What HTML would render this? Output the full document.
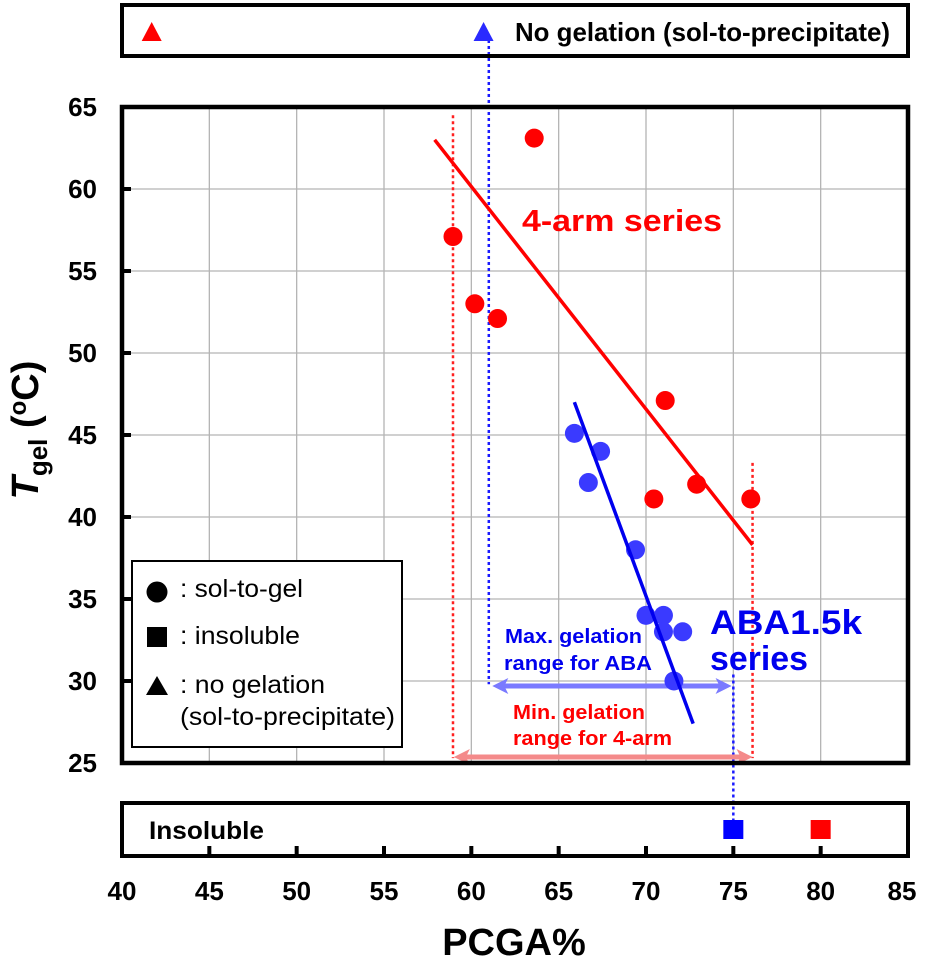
<!DOCTYPE html>
<html><head><meta charset="utf-8"><style>
body{margin:0;background:#fff}
svg{display:block;font-family:"Liberation Sans",Arial,sans-serif}
</style></head><body>
<svg id="chart" width="926" height="960" viewBox="0 0 926 960">
<g id="grid"></g>
<g id="overlay"></g>
<g id="marks"></g>
<g id="axes"></g>
</svg>
<script>
const xTicks=[40,45,50,55,60,65,70,75,80,85];
const yTicks=[25,30,35,40,45,50,55,60,65];
const fourArmX=[63.6,58.95,60.2,61.5,71.1,70.45,72.9,76];
const fourArmY=[63.1,57.1,53,52.1,47.1,41.1,42,41.1];
const abaX=[65.9,67.4,66.7,69.4,70,71,71,72.1,71.6];
const abaY=[45.1,44,42.1,38,34,34,33,33,30];
const fourArmFitX=[57.9,76.1];
const fourArmFitY=[63,38.3];
const abaFitX=[65.9,72.7];
const abaFitY=[47,27.4];
const noGelX=[41.7,60.7];
const insolX=[75,80];

const X0=122,X1=908,Y0=763,Y1=107;
const xs=v=>X0+(v-40)/(85-40)*(X1-X0);
const ys=v=>Y0-(v-25)/(65-25)*(Y0-Y1);
const NS='http://www.w3.org/2000/svg';
function mk(tag,attrs,parent,text){const e=document.createElementNS(NS,tag);for(const k in attrs)e.setAttribute(k,attrs[k]);if(text!==undefined)e.textContent=text;document.getElementById(parent).appendChild(e);return e;}

xTicks.forEach(t=>{if(t>40&&t<85){const l=mk('line',{x1:xs(t),x2:xs(t),y1:Y1,y2:Y0,stroke:'#b4b4b4','stroke-width':1.3},'grid');

}});
yTicks.forEach(t=>{if(t>25&&t<65){const l=mk('line',{x1:X0,x2:X1,y1:ys(t),y2:ys(t),stroke:'#b4b4b4','stroke-width':1.3},'grid');

}});

function dot(x,ya,yb,c,name){const l=mk('line',{x1:x,x2:x,y1:ya,y2:yb,stroke:c,'stroke-width':2.5,'stroke-dasharray':'3 3'},'overlay');

}
dot(xs(58.95),ys(64.5),ys(25.3),'#ff2020','left-4arm-bound');
dot(xs(76.1),ys(43.3),ys(25.3),'#ff2020','right-4arm-bound');
dot(xs(61),40,ys(29.8),'#1a1aff','aba-left-bound');
dot(xs(75),ys(30.4),822,'#1a1aff','aba-right-bound');

function arrow(xa,xb,y,c,name){const g=mk('g',{},'overlay');


const e=document.createElementNS(NS,'line');e.setAttribute('x1',xa+10);e.setAttribute('x2',xb-10);e.setAttribute('y1',y);e.setAttribute('y2',y);e.setAttribute('stroke',c);e.setAttribute('stroke-width',5);g.appendChild(e);
const p1=document.createElementNS(NS,'polygon');p1.setAttribute('points',`${xa},${y} ${xa+16},${y-8} ${xa+12},${y} ${xa+16},${y+8}`);p1.setAttribute('fill',c);g.appendChild(p1);
const p2=document.createElementNS(NS,'polygon');p2.setAttribute('points',`${xb},${y} ${xb-16},${y-8} ${xb-12},${y} ${xb-16},${y+8}`);p2.setAttribute('fill',c);g.appendChild(p2);}
arrow(xs(61.2),xs(74.9),686,'#7a7aff','aba-range-arrow');
arrow(xs(59),xs(76.1),757,'#f48a8a','4arm-range-arrow');

let l=mk('line',{x1:xs(fourArmFitX[0]),y1:ys(fourArmFitY[0]),x2:xs(fourArmFitX[1]),y2:ys(fourArmFitY[1]),stroke:'#ff0000','stroke-width':3.5},'marks');


fourArmX.forEach((x,i)=>{const c=mk('circle',{cx:xs(x),cy:ys(fourArmY[i]),r:9.5,fill:'#ff0000'},'marks');

});
abaX.forEach((x,i)=>{const c=mk('circle',{cx:xs(x),cy:ys(abaY[i]),r:9.5,fill:'#3a3aff'},'marks');

});
l=mk('line',{x1:xs(abaFitX[0]),y1:ys(abaFitY[0]),x2:xs(abaFitX[1]),y2:ys(abaFitY[1]),stroke:'#0000ee','stroke-width':3.5},'marks');



let r=mk('rect',{x:X0,y:5,width:X1-X0,height:51,fill:'none',stroke:'#000','stroke-width':4},'axes');


['#ff0000','#2a2aff'].forEach((c,i)=>{const x=xs(noGelX[i]);const p=mk('polygon',{points:`${x},22 ${x-10},41 ${x+10},41`,fill:c},'marks');

});
let t=mk('text',{x:515,y:41,'font-size':26,'font-weight':'bold',fill:'#000',textLength:375,lengthAdjust:'spacingAndGlyphs'},'axes','No gelation (sol-to-precipitate)');


r=mk('rect',{x:X0,y:803,width:X1-X0,height:53,fill:'none',stroke:'#000','stroke-width':4},'axes');


['#0000ff','#ff0000'].forEach((c,i)=>{const x=xs(insolX[i]);const s=mk('rect',{x:x-10,y:820,width:20,height:19,fill:c},'marks');

});
t=mk('text',{x:149,y:839,'font-size':25,'font-weight':'bold',textLength:115,lengthAdjust:'spacingAndGlyphs'},'axes','Insoluble');



r=mk('rect',{x:X0,y:Y1,width:X1-X0,height:Y0-Y1,fill:'none',stroke:'#000','stroke-width':4.5},'axes');


yTicks.forEach(v=>{const tk=mk('line',{x1:X0,x2:X0+9,y1:ys(v),y2:ys(v),stroke:'#000','stroke-width':4},'axes');


const lb=mk('text',{x:97,y:ys(v)+9,'font-size':26,'font-weight':'bold','text-anchor':'end'},'axes',String(v));

});
xTicks.forEach(v=>{if(v>40&&v<85){const tk=mk('line',{x1:xs(v),x2:xs(v),y1:856,y2:846,stroke:'#000','stroke-width':4},'axes');

}
const lb=mk('text',{x:xs(v)-(v===85?6:0),y:900,'font-size':26,'font-weight':'bold','text-anchor':'middle'},'axes',String(v));

});
t=mk('text',{x:514,y:955,'font-size':38,'font-weight':'bold','text-anchor':'middle'},'axes','PCGA%');


</script>
<div style="position:absolute;left:0;top:0;width:926px;height:960px;pointer-events:none">
<svg width="926" height="960" style="position:absolute;left:0;top:0;font-family:'Liberation Sans',Arial,sans-serif">
<text transform="translate(38,430) rotate(-90)" text-anchor="middle" font-size="38" font-weight="bold"><tspan font-style="italic">T</tspan><tspan font-size="26" dy="9">gel</tspan><tspan dy="-9"> (</tspan><tspan font-size="24" dy="-12">o</tspan><tspan dy="12">C)</tspan></text>
<text x="522" y="231" font-size="31" font-weight="bold" fill="#ff0000" textLength="200" lengthAdjust="spacingAndGlyphs">4-arm series</text>
<text x="710" y="634" font-size="34" font-weight="bold" fill="#0000ee" textLength="152" lengthAdjust="spacingAndGlyphs">ABA1.5k</text>
<text x="710" y="670" font-size="34" font-weight="bold" fill="#0000ee" textLength="98" lengthAdjust="spacingAndGlyphs">series</text>
<text x="505" y="643" font-size="20" font-weight="bold" fill="#0000ee" textLength="137" lengthAdjust="spacingAndGlyphs">Max. gelation</text>
<text x="504" y="670" font-size="20" font-weight="bold" fill="#0000ee" textLength="148" lengthAdjust="spacingAndGlyphs">range for ABA</text>
<text x="513" y="719" font-size="20" font-weight="bold" fill="#ff0000" textLength="132" lengthAdjust="spacingAndGlyphs">Min. gelation</text>
<text x="513" y="745" font-size="20" font-weight="bold" fill="#ff0000" textLength="159" lengthAdjust="spacingAndGlyphs">range for 4-arm</text>
<g>
<rect x="132" y="561" width="270" height="186" fill="#fff" stroke="#000" stroke-width="2"/>
<circle cx="157" cy="592" r="10.5" fill="#000"/>
<text x="180" y="597" font-size="25" textLength="123" lengthAdjust="spacingAndGlyphs">: sol-to-gel</text>
<rect x="147" y="627" width="20" height="20" fill="#000"/>
<text x="180" y="644" font-size="25" textLength="120" lengthAdjust="spacingAndGlyphs">: insoluble</text>
<polygon points="157,676 146,695 168,695" fill="#000"/>
<text x="180" y="693" font-size="25" textLength="145" lengthAdjust="spacingAndGlyphs">: no gelation</text>
<text x="180" y="725" font-size="25" textLength="215" lengthAdjust="spacingAndGlyphs">(sol-to-precipitate)</text>
</g>
</svg></div>
</body></html>
